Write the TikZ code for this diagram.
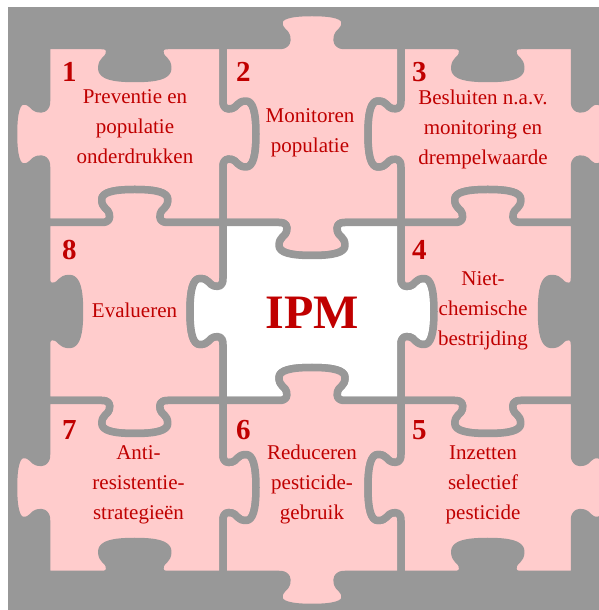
\documentclass[tikz,border=0pt]{standalone}
\usepackage{fontspec}
\setmainfont{Liberation Serif}
\usepackage{tikz}
\usetikzlibrary{positioning}
\definecolor{PuzzleGray}{HTML}{989898}
\definecolor{PiecePink}{HTML}{FFCCCC}
\definecolor{IpmRed}{HTML}{C00000}

% point on a knob: side (#1,#2)->(#3,#4), #5 = +1 tab / -1 hole, #6 along (from middle), #7 outwards
\newcommand\kpt[7]{({#1+(0.5+(#6)/(abs((#3)-(#1))+abs((#4)-(#2))))*((#3)-(#1))+(#5)*(#7)/(abs((#3)-(#1))+abs((#4)-(#2)))*((#4)-(#2))},{#2+(0.5+(#6)/(abs((#3)-(#1))+abs((#4)-(#2))))*((#4)-(#2))-(#5)*(#7)/(abs((#3)-(#1))+abs((#4)-(#2)))*((#3)-(#1))})}
\newcommand\addknob[5]{%
  \def\kp##1##2{\kpt{#1}{#2}{#3}{#4}{#5}{##1}{##2}}%
  \edef\piecepath{\piecepath -- \kp{-33}{0}
    .. controls \kp{-25}{0} and \kp{-24.5}{4} .. \kp{-25.5}{9}
    .. controls \kp{-26.5}{14} and \kp{-33}{14} .. \kp{-33}{23}
    .. controls \kp{-33}{30} and \kp{-22}{33} .. \kp{0}{33}
    .. controls \kp{22}{33} and \kp{33}{30} .. \kp{33}{23}
    .. controls \kp{33}{14} and \kp{26.5}{14} .. \kp{25.5}{9}
    .. controls \kp{24.5}{4} and \kp{25}{0} .. \kp{33}{0}
    -- (#3,#4)}}
% bottom left, top right, sides bottom/right/top/left, style
\newcommand\puzzlepiece[9]{%
  \def\piecepath{(#1,#2)}%
  \addknob{#1}{#2}{#3}{#2}{#5}\addknob{#3}{#2}{#3}{#4}{#6}%
  \addknob{#3}{#4}{#1}{#4}{#7}\addknob{#1}{#4}{#1}{#2}{#8}%
  \path[#9] \piecepath -- cycle;}

\begin{document}
\begin{tikzpicture}[x=1pt,y=1pt]
\tikzstyle{piece}=[fill=PiecePink,draw=PuzzleGray,line width=7.5pt,line join=round]
\tikzstyle{midpiece}=[piece,fill=white]
\tikzstyle{num}=[inner sep=0pt,text=IpmRed,font=\fontsize{29}{29}\selectfont\bfseries]
\tikzstyle{txt}=[inner sep=0pt,text=IpmRed,align=center,font=\fontsize{21}{30}\selectfont]
\useasboundingbox (0,0) rectangle (599,610);
\clip (0,0) rectangle (599,610);
\fill[PuzzleGray] (8,0) rectangle (599,603);
% the nine pieces
\puzzlepiece{46.5}{387.5}{223}{564.5}{-1}{1}{-1}{1}{piece}
\puzzlepiece{223}{387.5}{401}{564.5}{1}{-1}{1}{-1}{piece}
\puzzlepiece{401}{387.5}{574.5}{564.5}{-1}{1}{-1}{1}{piece}
\puzzlepiece{46.5}{209.5}{223}{387.5}{1}{-1}{1}{-1}{piece}
\puzzlepiece{223}{209.5}{401}{387.5}{-1}{1}{-1}{1}{midpiece}
\puzzlepiece{401}{209.5}{574.5}{387.5}{1}{-1}{1}{-1}{piece}
\puzzlepiece{46.5}{35.5}{223}{209.5}{-1}{1}{-1}{1}{piece}
\puzzlepiece{223}{35.5}{401}{209.5}{1}{-1}{1}{-1}{piece}
\puzzlepiece{401}{35.5}{574.5}{209.5}{-1}{1}{-1}{1}{piece}
% top left corners
\coordinate (c1) at (46.5,564.5);
\coordinate (c2) at (223,564.5);
\coordinate (c3) at (401,564.5);
\coordinate (c8) at (46.5,387.5);
\coordinate (c4) at (401,387.5);
\coordinate (c7) at (46.5,209.5);
\coordinate (c6) at (223,209.5);
\coordinate (c5) at (401,209.5);
\node[num,below right=17pt and 15.5pt of c1] (n1) {1};
\node[num,below right=17pt and 13pt of c2] (n2) {2};
\node[num,below right=17pt and 11pt of c3] (n3) {3};
\node[num,below right=18pt and 15.5pt of c8] (n8) {8};
\node[num,below right=18pt and 11pt of c4] (n4) {4};
\node[num,below right=20pt and 15.5pt of c7] (n7) {7};
\node[num,below right=20pt and 13pt of c6] (n6) {6};
\node[num,below right=20pt and 11pt of c5] (n5) {5};
\node[txt] (t1) at (135,483) {Preventie en\\populatie\\onderdrukken};
\node[txt] (t2) at (310,477.7) {Monitoren\\populatie};
\node[txt] (t3) at (483,480.8) {Besluiten n.a.v.\\monitoring en\\drempelwaarde};
\node[txt] (t8) at (134.5,300) {Evalueren};
\node[txt] (t4) at (483,299.3) {Niet-\\chemische\\bestrijding};
\node[txt] (t7) at (138.5,125.6) {Anti-\\resistentie-\\strategieën};
\node[txt] (t6) at (312,125.6) {Reduceren\\pesticide-\\gebruik};
\node[txt] (t5) at (483,125.6) {Inzetten\\selectief\\pesticide};
\node[inner sep=0pt,text=IpmRed,font=\fontsize{48}{48}\selectfont\bfseries,anchor=base] (ipm) at (312.5,281) {IPM};
\end{tikzpicture}
\end{document}
